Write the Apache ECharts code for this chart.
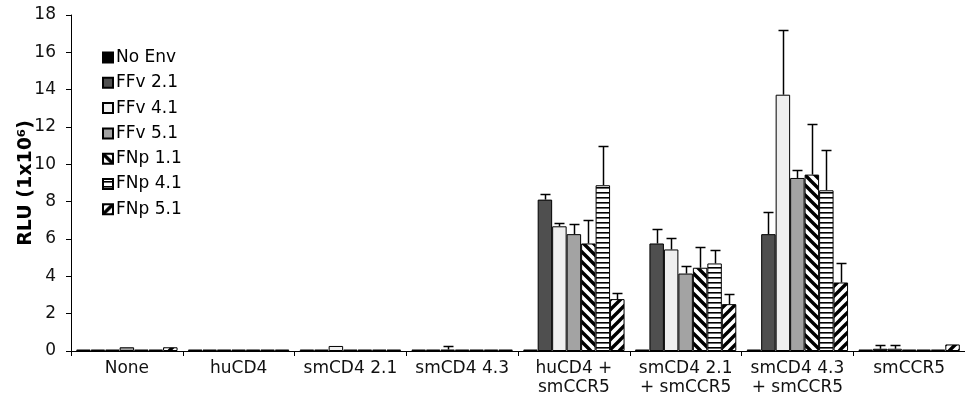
<!DOCTYPE html>
<html>
<head>
<meta charset="utf-8">
<script src="https://cdn.jsdelivr.net/npm/echarts@6/dist/echarts.min.js"></script>
<style>html,body{margin:0;padding:0;background:#fff;}#c{width:965px;height:399px;}</style>
</head>
<body>
<div id="c"></div>
<script>
const categories = ['None', 'huCD4', 'smCD4 2.1', 'smCD4 4.3', 'huCD4 +\nsmCCR5', 'smCD4 2.1\n+ smCCR5', 'smCD4 4.3\n+ smCCR5', 'smCCR5'];
const seriesNames = ['No Env', 'FFv 2.1', 'FFv 4.1', 'FFv 5.1', 'FNp 1.1', 'FNp 4.1', 'FNp 5.1'];
const yTicks = [0, 2, 4, 6, 8, 10, 12, 14, 16, 18];

const noEnv = [0.08, 0.08, 0.08, 0.08, 0.08, 0.08, 0.08, 0.08];
const ffv21 = [0.08, 0.08, 0.08, 0.08, 8.11, 5.76, 6.26, 0.12];
const ffv41 = [0.08, 0.08, 0.27, 0.08, 6.68, 5.44, 13.73, 0.12];
const ffv51 = [0.2, 0.08, 0.08, 0.08, 6.26, 4.15, 9.27, 0.08];
const fnp11 = [0.08, 0.08, 0.08, 0.08, 5.76, 4.46, 9.45, 0.08];
const fnp41 = [0.08, 0.08, 0.08, 0.08, 8.88, 4.69, 8.61, 0.08];
const fnp51 = [0.2, 0.08, 0.08, 0.08, 2.78, 2.51, 3.67, 0.35];

const noEnvErr = [0, 0, 0, 0, 0, 0, 0, 0];
const ffv21Err = [0, 0, 0, 0, 0.32, 0.76, 1.19, 0.2];
const ffv41Err = [0, 0, 0, 0.2, 0.18, 0.64, 3.44, 0.2];
const ffv51Err = [0, 0, 0, 0, 0.53, 0.41, 0.41, 0];
const fnp11Err = [0, 0, 0, 0, 1.24, 1.12, 2.69, 0];
const fnp41Err = [0, 0, 0, 0, 2.12, 0.71, 2.14, 0];
const fnp51Err = [0, 0, 0, 0, 0.34, 0.57, 1.07, 0];

const values = [noEnv, ffv21, ffv41, ffv51, fnp11, fnp41, fnp51];
const errors = [noEnvErr, ffv21Err, ffv41Err, ffv51Err, fnp11Err, fnp41Err, fnp51Err];

function pattern(kind) {
  const c = document.createElement('canvas');
  const s = kind === 'h' ? 5 : 10;
  c.width = s; c.height = s;
  const g = c.getContext('2d');
  g.fillStyle = '#fff';
  g.fillRect(0, 0, s, s);
  g.strokeStyle = '#000';
  if (kind === 'h') {
    g.fillStyle = '#000';
    g.fillRect(0, 2, s, 1.6);
  } else {
    g.lineWidth = 3.4;
    g.beginPath();
    for (let k = -1; k <= 1; k++) {
      if (kind === 'b') {
        g.moveTo(k * s - 2, -2); g.lineTo(k * s + s + 2, s + 2);
      } else {
        g.moveTo(k * s - 2, s + 2); g.lineTo(k * s + s + 2, -2);
      }
    }
    g.stroke();
  }
  return { image: c, repeat: 'repeat' };
}

const fills = ['#000000', '#4f4f4f', '#efefef', '#a3a3a3', pattern('b'), pattern('h'), pattern('f')];
const GAP = 0.093;
const N = seriesNames.length;

const series = [];
seriesNames.forEach((name, k) => {
  series.push({
    name: name,
    type: 'bar',
    data: values[k],
    barGap: '0%',
    barCategoryGap: (GAP * 100) + '%',
    itemStyle: { color: fills[k], borderColor: '#000', borderWidth: 1 },
    emphasis: { disabled: true },
    animation: false
  });
});
seriesNames.forEach((name, k) => {
  const data = [];
  values[k].forEach((v, i) => { if (errors[k][i] > 0) data.push([i, v, v + errors[k][i]]); });
  series.push({
    type: 'custom',
    z: 5,
    animation: false,
    silent: true,
    data: data,
    renderItem: function (params, api) {
      const cat = api.value(0);
      const base = api.coord([cat, api.value(1)]);
      const top = api.coord([cat, api.value(2)]);
      const band = api.size([1, 0])[0];
      const groupW = band * (1 - GAP);
      const bw = groupW / N;
      const x = Math.round(base[0] - groupW / 2 + bw * (k + 0.5)) + 0.5;
      const ty = Math.round(top[1]) + 0.5;
      const st = { stroke: '#000', lineWidth: 1.5 };
      return {
        type: 'group',
        children: [
          { type: 'line', shape: { x1: x, y1: base[1], x2: x, y2: ty }, style: st },
          { type: 'line', shape: { x1: x - 5, y1: ty, x2: x + 5, y2: ty }, style: st }
        ]
      };
    }
  });
});

const chart = echarts.init(document.getElementById('c'), null, { renderer: 'canvas' });
chart.setOption({
  backgroundColor: '#fff',
  animation: false,
  textStyle: { fontFamily: 'DejaVu Sans', color: '#000' },
  grid: { left: 71, top: 15, width: 900, height: 336, containLabel: false },
  legend: {
    data: seriesNames,
    orient: 'vertical',
    left: 97,
    top: 44,
    itemWidth: 10,
    itemHeight: 10,
    itemGap: 8.3,
    icon: 'rect',
    selectedMode: false,
    textStyle: { fontFamily: 'DejaVu Sans', fontSize: 17, color: '#000', padding: [0, 0, 0, -2] }
  },
  xAxis: {
    type: 'category',
    data: categories,
    axisLine: { lineStyle: { color: '#000', width: 1 } },
    axisTick: { show: true, alignWithLabel: false, length: 5, lineStyle: { color: '#000' } },
    axisLabel: { interval: 0, fontFamily: 'DejaVu Sans', fontSize: 17, color: '#111', margin: 8, lineHeight: 19 }
  },
  yAxis: {
    type: 'value',
    min: 0,
    max: 18,
    interval: 2,
    name: 'RLU (1x10\u2076)',
    nameLocation: 'middle',
    nameGap: 35,
    nameMoveOverlap: false,
    nameTextStyle: { fontFamily: 'DejaVu Sans', fontWeight: 'bold', fontSize: 19, color: '#000' },
    axisLine: { show: true, lineStyle: { color: '#000', width: 1 } },
    axisTick: { show: true, length: 5, lineStyle: { color: '#000' } },
    splitLine: { show: false },
    axisLabel: {
      fontFamily: 'DejaVu Sans', fontSize: 17, color: '#111', margin: 15,
      formatter: function (v) { return yTicks.indexOf(v) >= 0 ? String(v) : ''; }
    }
  },
  series: series
});
</script>
</body>
</html>
